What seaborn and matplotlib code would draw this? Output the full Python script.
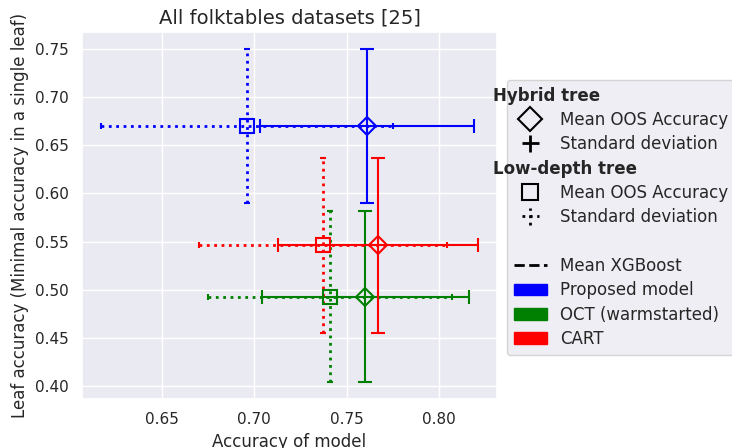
import matplotlib
matplotlib.use("Agg")
import matplotlib.pyplot as plt
import seaborn as sns
from matplotlib.lines import Line2D
from matplotlib.patches import Patch
from matplotlib.collections import LineCollection
from matplotlib.container import ErrorbarContainer
from matplotlib.ticker import MultipleLocator

# values
models = ["Proposed model", "OCT (warmstarted)", "CART"]
colors = ["blue", "green", "red"]
hybrid_acc = [0.761, 0.760, 0.767]
hybrid_acc_std = [0.058, 0.056, 0.054]
lowdepth_acc = [0.696, 0.741, 0.737]
lowdepth_acc_std = [0.079, 0.066, 0.067]
leaf_acc = [0.670, 0.493, 0.546]
leaf_acc_std = [0.080, 0.089, 0.091]

sns.set_theme(style="darkgrid", context="notebook")

fig = plt.figure(figsize=(7.32, 4.48), dpi=100)
ax = fig.add_axes([0.112, 0.109, 0.567, 0.820])

for i, c in enumerate(colors):
    ax.errorbar(hybrid_acc[i], leaf_acc[i], xerr=hybrid_acc_std[i], yerr=leaf_acc_std[i],
                fmt="D", color=c, mfc="none", ms=9.5, mew=1.5,
                elinewidth=1.5, capsize=5, capthick=1.5)
    eb = ax.errorbar(lowdepth_acc[i], leaf_acc[i], xerr=lowdepth_acc_std[i], yerr=leaf_acc_std[i],
                     fmt="s", color=c, mfc="none", ms=9.5, mew=1.5,
                     elinewidth=2, capsize=2.5, capthick=1.5)
    for col in eb.lines[2]:
        col.set_linestyle(":")

ax.xaxis.set_major_locator(MultipleLocator(0.05))
ax.yaxis.set_major_locator(MultipleLocator(0.05))
ax.set_title("All folktables datasets [25]", fontsize=14)
ax.set_xlabel("Accuracy of model", fontsize=12)
ax.set_ylabel("Leaf accuracy (Minimal accuracy in a single leaf)", fontsize=12)


def err_handle(ls, label):
    line = Line2D([], [], linestyle="none", color="black")
    bars = (LineCollection([], colors="black", linestyles=ls, linewidths=2),
            LineCollection([], colors="black", linestyles=ls, linewidths=2))
    return ErrorbarContainer((line, (), bars), has_xerr=True, has_yerr=True, label=label)


headers = ["Hybrid tree", "Low-depth tree"]
handles = [
    Line2D([], [], linestyle="none", label=headers[0]),
    Line2D([], [], marker="D", linestyle="none", mfc="none", mec="black", ms=12, mew=1.5,
           label="Mean OOS Accuracy"),
    err_handle("-", "Standard deviation"),
    Line2D([], [], linestyle="none", label=headers[1]),
    Line2D([], [], marker="s", linestyle="none", mfc="none", mec="black", ms=12, mew=1.5,
           label="Mean OOS Accuracy"),
    err_handle(":", "Standard deviation"),
    Line2D([], [], linestyle="none", label=" "),
    Line2D([], [], color="black", linestyle="--", lw=2, label="Mean XGBoost"),
]
for m, c in zip(models, colors):
    handles.append(Patch(color=c, label=m))

leg = ax.legend(handles=handles, loc="upper left", fontsize=12, labelspacing=0.38,
                bbox_to_anchor=(507 / 732, 1 - 80 / 448), bbox_transform=fig.transFigure,
                borderaxespad=0)

# move the group headers out to the left, in bold
fig.canvas.draw()
renderer = fig.canvas.get_renderer()
for t in leg.get_texts():
    if t.get_text() in headers:
        bb = t.get_window_extent(renderer)
        t.set_alpha(0)
        fig.text(493 / 732, bb.y0 / fig.bbox.height, t.get_text(), fontsize=12,
                 fontweight="bold", ha="left", va="bottom")

fig.savefig("out.png", dpi=100)
